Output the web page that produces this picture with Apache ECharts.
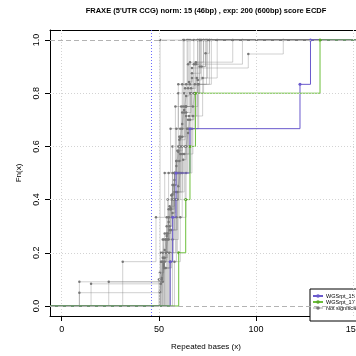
<!DOCTYPE html>
<html><head><meta charset="utf-8">
<script src="https://cdn.jsdelivr.net/npm/echarts@6/dist/echarts.min.js"></script>
<style>html,body{margin:0;padding:0;background:#fff}#c{width:356px;height:356px}</style>
</head><body><div id="c"></div>
<script>
const titleText = "FRAXE (5'UTR CCG) norm: 15 (46bp) , exp: 200 (600bp) score ECDF";
const xAxisName = 'Repeated bases (x)';
const yAxisName = 'Fn(x)';
const xTicks = [0, 50, 100, 150];
const yTicks = [0, 0.2, 0.4, 0.6, 0.8, 1.0];
const normBp = 46;

const blueName = 'WGSrpt_15';
const blueVals = [55.8, 57.1, 58.8, 66.0, 122.6, 128.0];
const greenName = 'WGSrpt_17';
const greenVals = [60.2, 63.8, 66.0, 68.8, 132.9];
const greyName = 'Not significant';

const grey01 = [50.6];
const grey02 = [9.1, 51.5, 52.5, 53.5, 54.5, 55.5, 57, 58.5, 60, 61, 62.5, 64, 65, 66, 67.5, 68.5, 70, 72, 74, 76];
const grey03 = [9.1, 52, 53, 55, 57, 59, 61, 63, 65, 68, 71];
const grey04 = [15.1, 51, 53.5, 55, 56.5, 58, 60, 62, 64, 66, 69, 73];
const grey05 = [24.2, 52.5, 54, 56, 58, 60.5, 62, 64, 66.5, 69, 72];
const grey06 = [31.4, 48.5, 53, 56, 60, 65];
const grey07 = [50.5, 51.5, 52.5, 53, 54, 55, 56, 57, 58, 59, 60, 61, 62, 63, 64, 65.5, 67, 96, 114];
const grey08 = [51, 52, 53.5, 55, 56.5, 58, 59.5, 61, 62.5, 64, 66, 88];
const grey09 = [52, 53, 54.5, 56, 57.5, 59, 60.5, 62, 63.5, 65, 93];
const grey10 = [53, 56, 58, 61, 64, 67, 70];
const grey11 = [51.5, 54, 57, 59, 62, 66];
const grey12 = [54.5, 57.5, 60, 63, 68];
const grey13 = [52, 55, 58.5, 62.5];
const grey14 = [53.5, 56.5, 59.5, 62, 65.5, 69.5, 75];
const grey15 = [55, 58, 61.5, 64.5];
const grey16 = [50.5, 52.5, 55.5, 58, 60.5, 63.5, 67, 71.5];
const grey17 = [56, 59, 62, 65, 70, 76];
const grey18 = [51, 54.5, 57, 60, 63];
const grey19 = [52.5, 55.5, 59, 63, 67.5, 72.5, 80];
const grey20 = [54, 58.5, 61, 66, 73];
const grey21 = [53, 57, 60.5, 64.5, 68.5, 77];
const grey22 = [57, 60, 64, 70];
const grey23 = [50, 52, 54, 56.5, 59.5, 62, 65, 68, 71, 74];
const grey24 = [55.5, 59.5, 63.5, 66.5, 71];
const grey25 = [58, 61, 64, 67, 70.5, 74.5];
const greySamples = [grey01, grey02, grey03, grey04, grey05, grey06, grey07, grey08, grey09, grey10,
  grey11, grey12, grey13, grey14, grey15, grey16, grey17, grey18, grey19, grey20,
  grey21, grey22, grey23, grey24, grey25];

const XMIN = -6.02, XMAX = 154.5, YMIN = -0.0376, YMAX = 1.0376;

function ecdfData(vals) {
  const s = vals.slice().sort((a, b) => a - b);
  const n = s.length;
  const out = [{ value: [XMIN, 0], symbol: 'none' }];
  for (let i = 0; i < n; i++) {
    if (i < n - 1 && s[i + 1] === s[i]) continue;
    out.push({ value: [s[i], (i + 1) / n] });
  }
  out.push({ value: [XMAX, 1], symbol: 'none' });
  return out;
}

function ecdfSeries(name, vals, lineColor, pointColor, z, size) {
  return {
    type: 'line', name: name, step: 'end', data: ecdfData(vals),
    symbol: 'circle', symbolSize: size, showSymbol: true, showAllSymbol: true,
    itemStyle: { color: pointColor },
    lineStyle: { color: lineColor, width: 1 },
    emphasis: { disabled: true }, animation: false, z: z, clip: true
  };
}

const series = [];
series.push({
  type: 'line', name: '_ref', data: [], silent: true, animation: false, z: 1,
  markLine: {
    symbol: ['none', 'none'], silent: true, animation: false, label: { show: false },
    data: [
      ...xTicks.map(v => ({ xAxis: v, lineStyle: { color: '#d3d3d3', type: [1, 2], width: 1 } })),
      ...[0.2, 0.4, 0.6, 0.8].map(v => ({ yAxis: v, lineStyle: { color: '#d3d3d3', type: [1, 2], width: 1 } })),
      { yAxis: 0, lineStyle: { color: '#b3b3b3', type: [5, 3], width: 1 } },
      { yAxis: 1, lineStyle: { color: '#b3b3b3', type: [5, 3], width: 1 } },
      { xAxis: normBp, lineStyle: { color: '#5a5aff', type: [1, 2], width: 1, opacity: 0.9 } }
    ]
  }
});
greySamples.forEach(g => series.push(ecdfSeries(greyName, g, 'rgba(120,120,120,0.35)', '#777777', 2, 2.5)));
series.push(ecdfSeries(blueName, blueVals, '#6a5acd', '#6a5acd', 3, 3));
series.push(ecdfSeries(greenName, greenVals, '#6cbf3a', '#5aa82a', 3, 3));

const chart = echarts.init(document.getElementById('c'), null, { renderer: 'canvas' });
chart.setOption({
  backgroundColor: '#fff',
  animation: false,
  textStyle: { fontFamily: 'Liberation Sans' },
  title: {
    text: titleText, left: 206, top: 7, textAlign: 'center', padding: 0,
    textStyle: { fontSize: 7.5, fontWeight: 'bold', color: '#000', fontFamily: 'Liberation Sans' }
  },
  grid: { left: 50, top: 30, width: 312, height: 286, show: false, containLabel: false, outerBoundsMode: 'none' },
  xAxis: [{
    type: 'value', min: XMIN, max: XMAX,
    axisLine: { show: true, onZero: false, lineStyle: { color: '#000' } },
    axisTick: { show: true, customValues: xTicks, length: 5, lineStyle: { color: '#000' } },
    axisLabel: { customValues: xTicks, fontSize: 9, color: '#000', margin: 9 },
    splitLine: { show: false },
    name: xAxisName, nameLocation: 'middle', nameGap: 27,
    nameTextStyle: { fontSize: 8, color: '#000' }
  }, {
    type: 'value', min: XMIN, max: XMAX, position: 'top',
    axisLine: { show: true, onZero: false, lineStyle: { color: '#000' } },
    axisTick: { show: false }, axisLabel: { show: false }, splitLine: { show: false }
  }],
  yAxis: {
    type: 'value', min: YMIN, max: YMAX,
    axisLine: { show: true, onZero: false, lineStyle: { color: '#000' } },
    axisTick: { show: true, customValues: yTicks, length: 5, lineStyle: { color: '#000' } },
    axisLabel: { customValues: yTicks, fontSize: 9, color: '#000', margin: 9, rotate: 90, formatter: v => v.toFixed(1) },
    splitLine: { show: false },
    name: yAxisName, nameLocation: 'middle', nameGap: 27, nameRotate: 90,
    nameTextStyle: { fontSize: 8, color: '#000' }
  },
  legend: {
    orient: 'vertical', left: 310, top: 289, padding: [4, 2, 10, 2],
    itemWidth: 10, itemHeight: 4.5, itemGap: 0,
    borderColor: '#000', borderWidth: 1, backgroundColor: '#fff',
    textStyle: { fontSize: 5.5, lineHeight: 4.5, color: '#000', padding: [0, 0, 0, -2] },
    data: [blueName, greenName, greyName],
    selectedMode: false
  },
  series: series
});
</script></body></html>
